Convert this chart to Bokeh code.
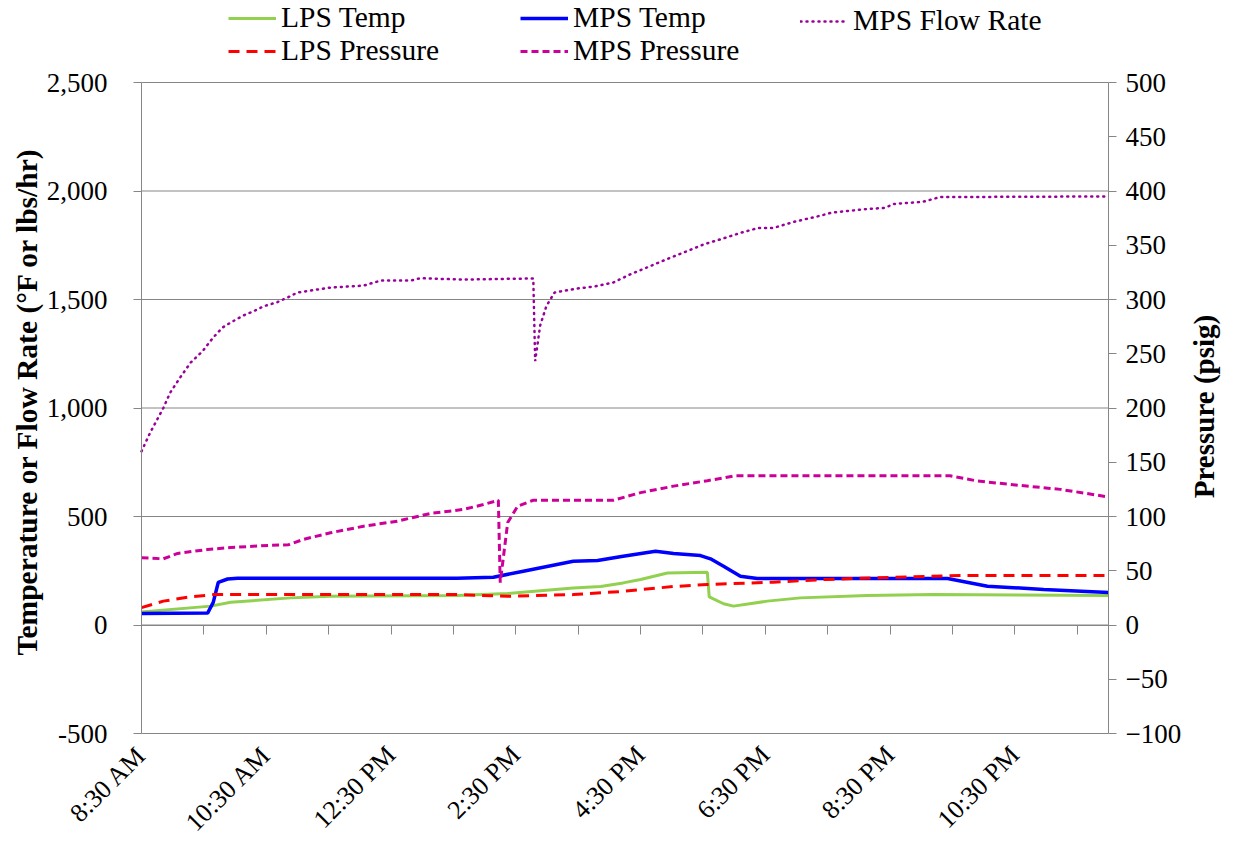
import math
from bokeh.plotting import figure
from bokeh.models import (Range1d, LinearAxis, FixedTicker, Legend, LegendItem,
                          NumeralTickFormatter, Title, Label)
from bokeh.embed import file_html
from bokeh.resources import INLINE

# ---------------- data (x in hours of the day) ----------------
flow_h = [8.5, 8.64, 8.85, 8.96, 9.13, 9.29, 9.48, 9.65, 9.80, 9.93, 10.13, 10.29, 10.46,
          10.68, 10.84, 11.0, 11.53, 12.06, 12.33, 12.81, 12.97, 13.66, 14.78, 14.81, 14.89,
          14.99, 15.12, 15.47, 15.76, 16.06, 16.35, 16.64, 16.93, 17.22, 17.53, 17.81, 18.10,
          18.39, 18.63, 18.96, 19.38, 19.56, 20.13, 20.42, 20.55, 21.02, 21.30, 24.0]
mps_flow = [800, 887, 1000, 1071, 1145, 1210, 1262, 1325, 1371, 1394, 1426, 1445, 1469,
            1488, 1509, 1532, 1555, 1564, 1587, 1587, 1598, 1592, 1597, 1216, 1380,
            1470, 1532, 1550, 1560, 1578, 1618, 1652, 1687, 1720, 1756, 1780, 1807,
            1830, 1830, 1858, 1886, 1900, 1917, 1922, 1940, 1950, 1972, 1975]

mps_p_h = [8.5, 8.85, 9.08, 9.56, 9.93, 10.57, 10.86, 11.10, 11.53, 12.06, 12.60, 13.13,
           13.66, 13.98, 14.22, 14.25, 14.37, 14.53, 14.78, 16.06, 16.5, 17.03, 17.57,
           18.02, 21.46, 21.87, 22.43, 23.23, 24.0]
mps_pressure = [62, 61, 66, 69.6, 71.4, 73.5, 74, 79, 85, 91, 95.7, 102.8,
                106.5, 111, 115, 39, 94.5, 109.5, 115, 115, 122, 128, 133,
                137.5, 137.5, 133, 129.5, 125, 118]

lps_p_h = [8.5, 8.85, 9.29, 9.65, 13.56, 14.37, 15.42, 16.22, 17.03, 17.57, 18.63, 19.49,
           20.55, 21.63, 24.0]
lps_pressure = [16, 22, 26, 28, 28, 26.5, 28, 31, 35.5, 37.3, 39.5, 42, 44, 45.6, 45.6]

mps_t_h = [8.5, 9.56, 9.65, 9.73, 9.88, 10.04, 13.56, 14.14, 14.62, 15.42, 15.81, 16.22,
           16.74, 17.03, 17.46, 17.62, 17.83, 18.10, 18.37, 21.42, 22.06, 22.96, 24.0]
mps_temp = [53, 55, 104, 196, 212, 215, 215, 220, 248, 294, 297, 317,
            340, 329, 320, 305, 271, 225, 214, 214, 179, 164, 150]

lps_t_h = [8.5, 9.61, 9.93, 10.89, 11.53, 13.56, 14.37, 15.42, 15.86, 16.22, 16.5, 16.93,
           17.57, 17.60, 17.83, 17.99, 18.53, 19.06, 20.13, 21.19, 24.0]
lps_temp = [60, 87, 105, 125, 133, 136, 145, 171, 177, 194, 210, 240,
            243, 130, 98, 87, 110, 125, 136, 140, 136]

x_lim = (8.5, 24.0)
hour_ticks = [8.5 + i for i in range(16)]
label_ticks = [8.5, 10.5, 12.5, 14.5, 16.5, 18.5, 20.5, 22.5]
label_text = ["8:30 AM", "10:30 AM", "12:30 PM", "2:30 PM", "4:30 PM", "6:30 PM",
              "8:30 PM", "10:30 PM"]
left_ticks = [-500, 0, 500, 1000, 1500, 2000, 2500]
right_ticks = [-100, -50, 0, 50, 100, 150, 200, 250, 300, 350, 400, 450, 500]
left_lim = (-500, 2500)
right_lim = (-100, 500)

FONT = "Liberation Serif"
GRAY = "#868686"

# geometry (pixels)
W, H = 1222, 837
PLOT_L, PLOT_R, PLOT_T, PLOT_B = 141, 1108, 82, 733
FRAME_L = 45                      # frame starts right of the left title
RIGHT_TITLE_X, RIGHT_TITLE_Y = 1203, 406
kx = (PLOT_R - PLOT_L) / (x_lim[1] - x_lim[0])
scale_l = (PLOT_B - PLOT_T) / (left_lim[1] - left_lim[0])
scale_r = (PLOT_B - PLOT_T) / (right_lim[1] - right_lim[0])
xr = (x_lim[0] - (PLOT_L - FRAME_L) / kx, x_lim[1] + (W - PLOT_R) / kx)
yl_range = (left_lim[0] - (H - PLOT_B) / scale_l, left_lim[1] + PLOT_T / scale_l)
yr_range = (right_lim[0] - (H - PLOT_B) / scale_r, right_lim[1] + PLOT_T / scale_r)

p = figure(width=W, height=H, output_backend="svg", toolbar_location=None,
           x_range=Range1d(*xr), y_range=Range1d(*yl_range),
           x_axis_location=None, y_axis_location=None,
           min_border_left=FRAME_L, min_border_right=0, min_border_top=0,
           min_border_bottom=0)
p.outline_line_color = None
p.background_fill_color = "white"
p.border_fill_color = "white"
p.xgrid.visible = False
p.ygrid.visible = False

p.extra_y_ranges = {"psig": Range1d(*yr_range)}

# horizontal grid lines at the left-axis ticks, across the plot area only
n = len(left_ticks)
p.segment(x0=[x_lim[0]] * n, x1=[x_lim[1]] * n, y0=left_ticks, y1=left_ticks,
          line_color=GRAY, line_width=1)

# left axis (placed at the start of the time range)
la = LinearAxis(ticker=FixedTicker(ticks=left_ticks), bounds=left_lim,
                fixed_location=x_lim[0])
la.formatter = NumeralTickFormatter(format="0,0")
la.major_label_text_font = FONT
la.major_label_text_font_size = "27px"
la.major_label_text_color = "black"
la.major_label_standoff = 26
la.axis_line_color = GRAY
la.major_tick_line_color = GRAY
la.major_tick_out = 8
la.major_tick_in = 0
la.minor_tick_line_color = None
p.add_layout(la, "left")

lt = Title(text="Temperature or Flow Rate (°F or lbs/hr)", align="left", offset=182,
           text_font=FONT, text_font_style="bold", text_font_size="29.5px",
           text_color="black", standoff=6)
p.add_layout(lt, "left")

# right axis (placed at the end of the time range)
ra = LinearAxis(y_range_name="psig", ticker=FixedTicker(ticks=right_ticks), bounds=right_lim,
                fixed_location=x_lim[1])
ra.major_label_text_font = FONT
ra.major_label_text_font_size = "27px"
ra.major_label_text_color = "black"
ra.major_label_standoff = 9
ra.axis_line_color = GRAY
ra.major_tick_line_color = GRAY
ra.major_tick_out = 8
ra.major_tick_in = 0
ra.minor_tick_line_color = None
p.add_layout(ra, "right")

rt = Label(x=x_lim[1] + (RIGHT_TITLE_X - PLOT_R) / kx,
           y=right_lim[1] - (RIGHT_TITLE_Y - PLOT_T) / scale_r, y_range_name="psig",
           text="Pressure (psig)", angle=math.pi / 2, text_align="center",
           text_baseline="middle", text_font=FONT, text_font_style="bold",
           text_font_size="29px", text_color="black")
p.add_layout(rt)

# x axis line with hourly ticks at value 0 (no labels)
xa = LinearAxis(ticker=FixedTicker(ticks=hour_ticks), fixed_location=0, bounds=x_lim)
xa.axis_line_color = GRAY
xa.major_tick_line_color = GRAY
xa.major_tick_out = 9
xa.major_tick_in = 0
xa.minor_tick_line_color = None
xa.major_label_overrides = {t: "" for t in hour_ticks}
p.add_layout(xa, "below")

# x labels under the bottom line of the plot area
xl = LinearAxis(ticker=FixedTicker(ticks=label_ticks), fixed_location=left_lim[0],
                bounds=x_lim)
xl.axis_line_color = None
xl.major_tick_line_color = None
xl.minor_tick_line_color = None
xl.major_tick_out = 0
xl.major_tick_in = 0
xl.major_label_overrides = {t: s for t, s in zip(label_ticks, label_text)}
xl.major_label_orientation = math.pi / 4
xl.major_label_text_font = FONT
xl.major_label_text_font_size = "26px"
xl.major_label_text_color = "black"
xl.major_label_standoff = 17
p.add_layout(xl, "below")

# series
r_lt = p.line(lps_t_h, lps_temp, line_color="#92D050", line_width=3)
r_mt = p.line(mps_t_h, mps_temp, line_color="#0000FF", line_width=3.5)
r_fl = p.line(flow_h, mps_flow, line_color="#990099", line_width=2.5,
              line_dash="1 5", line_cap="round")
r_lp = p.line(lps_p_h, lps_pressure, line_color="#FF0000", line_width=3,
              line_dash="11 7", y_range_name="psig")
r_mp = p.line(mps_p_h, mps_pressure, line_color="#CC0099", line_width=3,
              line_dash="7 4", y_range_name="psig")

ROW_H = 33
SPACING = -3
LEG_TOP = 4

def make_legend(items, left_px):
    k = len(items)
    leg_h = k * ROW_H + (k - 1) * SPACING
    lg = Legend(items=items, location=(left_px - FRAME_L, H - (LEG_TOP + leg_h)),
                orientation="vertical")
    lg.label_text_font = FONT
    lg.label_text_font_size = "29.5px"
    lg.label_text_color = "black"
    lg.glyph_width = 48
    lg.glyph_height = 28
    lg.label_height = 28
    lg.label_standoff = 5
    lg.spacing = SPACING
    lg.padding = 0
    lg.margin = 0
    lg.border_line_color = None
    lg.background_fill_alpha = 0
    p.add_layout(lg)

make_legend([LegendItem(label="LPS Temp", renderers=[r_lt]),
             LegendItem(label="LPS Pressure", renderers=[r_lp])], 228)
make_legend([LegendItem(label="MPS Temp", renderers=[r_mt]),
             LegendItem(label="MPS Pressure", renderers=[r_mp])], 520)
make_legend([LegendItem(label="MPS Flow Rate", renderers=[r_fl])], 800)

open("out.html", "w").write(file_html(p, INLINE))
